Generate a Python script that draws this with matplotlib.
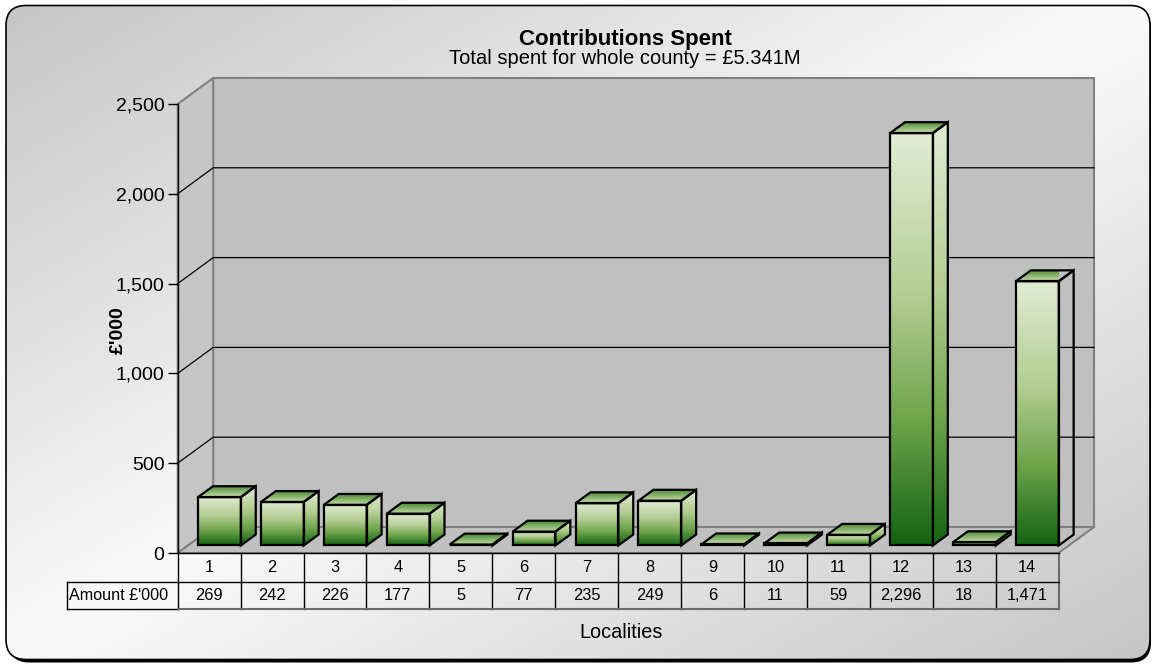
import numpy as np
import matplotlib
matplotlib.use("Agg")
import matplotlib.pyplot as plt
from matplotlib.patches import Polygon, FancyBboxPatch
from matplotlib.colors import LinearSegmentedColormap
from matplotlib.transforms import blended_transform_factory

plt.rcParams["font.family"] = ["Liberation Sans", "DejaVu Sans"]

# ---------------------------
# data
# ---------------------------
localities = ["1", "2", "3", "4", "5", "6", "7", "8", "9", "10", "11", "12", "13", "14"]
amounts = [269, 242, 226, 177, 5, 77, 235, 249, 6, 11, 59, 2296, 18, 1471]
y_ticks = [0, 500, 1000, 1500, 2000, 2500]
row_label = "Amount £'000"
title = "Contributions Spent"
subtitle = "Total spent for whole county = £5.341M"
x_title = "Localities"
y_title = "£'000"

W, H = 1154, 665
fig = plt.figure(figsize=(W / 100, H / 100), dpi=100)

# ---------------------------
# rounded background with gradient
# ---------------------------
bg = fig.add_axes([0, 0, 1, 1])
bg.set_xlim(0, W)
bg.set_ylim(H, 0)
bg.axis("off")

shadow = FancyBboxPatch((9, 8.5), 1142, 654, boxstyle="round,pad=0,rounding_size=20",
                        fc="black", ec="none")
bg.add_patch(shadow)
frame = FancyBboxPatch((6, 5.5), 1144, 654, boxstyle="round,pad=0,rounding_size=20",
                       fc="none", ec="black", lw=1.2, zorder=3)
bg.add_patch(frame)

xx, yy = np.meshgrid(np.linspace(0, 1, W), np.linspace(0, 1, H))
t = (xx + yy) / 2
shade = 0.77 + 0.21 * (1 - np.abs(2 * t - 1))
img = bg.imshow(np.dstack([shade, shade, shade]), extent=(0, W, H, 0), zorder=1)
img.set_clip_path(frame)

# ---------------------------
# main axes = front plane of the 3d box
# ---------------------------
ax = fig.add_axes([177.7 / W, 112 / H, 880.8 / W, 449 / H])
xmin, xmax = -0.5, len(amounts) - 0.5
ymax = 2500
ax.patch.set_visible(False)

# depth of the box, in data units
DX = 35.5 / (880.8 / len(amounts))
DY = 26 / (449 / ymax)

wall = "#c0c0c0"
edge = "#808080"

back = Polygon([(xmin + DX, DY), (xmax + DX, DY), (xmax + DX, ymax + DY), (xmin + DX, ymax + DY)],
               closed=True, fc=wall, ec=edge, lw=1.5, zorder=1, clip_on=False)
left = Polygon([(xmin, 0), (xmin + DX, DY), (xmin + DX, ymax + DY), (xmin, ymax)],
               closed=True, fc="#c6c6c6", ec=edge, lw=1.5, zorder=1, clip_on=False)
floor = Polygon([(xmin, 0), (xmax, 0), (xmax + DX, DY), (xmin + DX, DY)],
                closed=True, fc=wall, ec=edge, lw=1.5, zorder=1, clip_on=False)
for p in (back, left, floor):
    ax.add_patch(p)

for v in y_ticks[1:-1]:
    ax.plot([xmin, xmin + DX, xmax + DX], [v, v + DY, v + DY], color="black", lw=0.9,
            zorder=2, clip_on=False)

# ---------------------------
# bars
# ---------------------------
front_cmap = LinearSegmentedColormap.from_list(
    "front", [(0, "#136313"), (0.3, "#6ea44b"), (0.6, "#b2cd92"), (1, "#e2ecd5")])
top_cmap = LinearSegmentedColormap.from_list("top", [(0, "#c8ddab"), (1, "#4b8c33")])
grad = np.linspace(0, 1, 256).reshape(-1, 1)

bw = 0.68
f = 0.29
b = 0.71


def shaded_face(verts, cmap, extent):
    poly = Polygon(verts, closed=True, fc="none", ec="black", lw=1.6,
                   joinstyle="miter", zorder=4, clip_on=False)
    ax.add_patch(poly)
    im = ax.imshow(grad, cmap=cmap, extent=extent, origin="lower", aspect="auto",
                   interpolation="bilinear", zorder=3)
    im.set_clip_path(poly)
    im.set_clip_box(None)


for i, v in enumerate(amounts):
    x0, x1 = i - bw / 2, i + bw / 2
    fx, fy = f * DX, f * DY
    bx, by = b * DX, b * DY
    # front
    shaded_face([(x0 + fx, fy), (x1 + fx, fy), (x1 + fx, v + fy), (x0 + fx, v + fy)],
                front_cmap, (x0 + fx, x1 + fx, fy, v + fy))
    # side
    shaded_face([(x1 + fx, fy), (x1 + bx, by), (x1 + bx, v + by), (x1 + fx, v + fy)],
                front_cmap, (x1 + fx, x1 + bx, fy, v + by))
    # top
    shaded_face([(x0 + fx, v + fy), (x1 + fx, v + fy), (x1 + bx, v + by), (x0 + bx, v + by)],
                top_cmap, (x0 + fx, x1 + bx, v + fy, v + by))

ax.set_xlim(xmin, xmax)
ax.set_ylim(0, ymax)

# ---------------------------
# axis
# ---------------------------
for s in ("top", "right", "bottom"):
    ax.spines[s].set_visible(False)
ax.spines["left"].set_linewidth(1.0)
ax.spines["left"].set_zorder(5)
ax.set_xticks([])
ax.set_yticks(y_ticks)
ax.set_yticklabels([f"{v:,}" for v in y_ticks])
ax.tick_params(axis="y", length=7.5, width=1.0, pad=2, labelsize=14)

# ---------------------------
# data table under the chart
# ---------------------------
tr = blended_transform_factory(ax.transData, ax.transAxes)
r0, r1, r2 = 0, -28.5 / 449, -56 / 449
lab_x = xmin - 111 / (880.8 / len(amounts))
inner = "black"
outer = "#6a6a6a"

for k in range(len(amounts)):
    ax.plot([xmin + k, xmin + k], [r0, r2], color=inner, lw=1.0, transform=tr, clip_on=False)
ax.plot([xmax, xmax], [r0, r2], color=outer, lw=1.5, transform=tr, clip_on=False)
ax.plot([xmin, xmax], [r0, r0], color=inner, lw=1.0, transform=tr, clip_on=False)
ax.plot([lab_x, xmax], [r1, r1], color=inner, lw=1.0, transform=tr, clip_on=False)
ax.plot([lab_x, xmin], [r2, r2], color=inner, lw=1.0, transform=tr, clip_on=False)
ax.plot([xmin, xmax], [r2, r2], color=outer, lw=1.5, transform=tr, clip_on=False)
ax.plot([lab_x, lab_x], [r1, r2], color=inner, lw=1.0, transform=tr, clip_on=False)

for i, (name, v) in enumerate(zip(localities, amounts)):
    ax.text(i, (r0 + r1) / 2, name, ha="center", va="center", fontsize=11.8, transform=tr)
    ax.text(i, (r1 + r2) / 2, f"{v:,}", ha="center", va="center", fontsize=11.8, transform=tr)
ax.text(lab_x + 0.04, (r1 + r2) / 2, row_label, ha="left", va="center", fontsize=11.6,
        transform=tr)

# ---------------------------
# titles
# ---------------------------
fig.text(625 / W, 1 - 45 / H, title, ha="center", va="baseline", fontsize=16,
         fontweight="bold")
fig.text(625 / W, 1 - 64 / H, subtitle, ha="center", va="baseline", fontsize=14.5)
fig.text(621 / W, 1 - 638 / H, x_title, ha="center", va="baseline", fontsize=14.3)
fig.text(118 / W, 1 - 330 / H, y_title, ha="center", va="center", fontsize=14,
         fontweight="bold", rotation=90)

fig.savefig("out.png", dpi=100)
